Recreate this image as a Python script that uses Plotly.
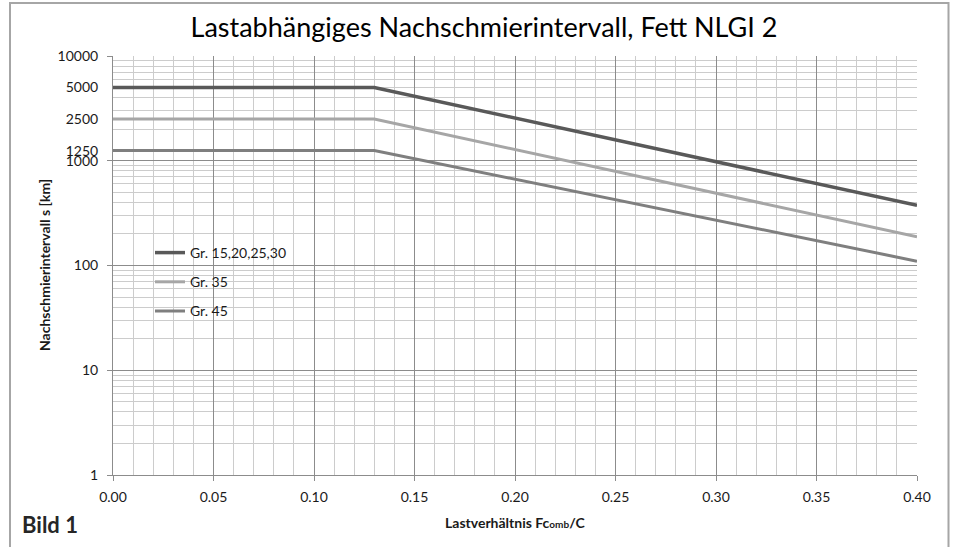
import plotly.graph_objects as go

# Data
load_ratio = [0.00, 0.13, 0.40]
series_names = ["Gr. 15,20,25,30", "Gr. 35", "Gr. 45"]
gr_15_30 = [5000, 5000, 375]
gr_35 = [2500, 2500, 188]
gr_45 = [1250, 1250, 110]
series_values = [gr_15_30, gr_35, gr_45]
series_colors = ["#595959", "#a6a6a6", "#7f7f7f"]

y_major_ticks = [1, 10, 100, 1000, 10000]
y_extra_ticks = [1250, 2500, 5000]
x_ticks = [0.00, 0.05, 0.10, 0.15, 0.20, 0.25, 0.30, 0.35, 0.40]

W, H = 954, 547
L, R, T, B = 113, 37, 56, 72
pw, ph = W - L - R, H - T - B


def px(x):
    return (x - L) / pw


def py(y):
    return (H - B - y) / ph


FONT = "Lato, 'Open Sans', sans-serif"
TXT = "#1a1a1a"

fig = go.Figure()
for i, (name, vals, col) in enumerate(zip(series_names, series_values, series_colors)):
    fig.add_trace(go.Scatter(
        x=load_ratio, y=vals, mode="lines", name=name,
        line=dict(color=col, width=3.5 if i == 0 else 3),
        legendgroup=f"g{i}", hoverinfo="x+y+name",
    ))
fig.add_trace(go.Scatter(x=[None], y=[None], yaxis="y2", showlegend=False, hoverinfo="skip"))

minor_y = [m * 10 ** d for d in range(0, 4) for m in range(2, 10)]

fig.update_layout(
    width=W, height=H,
    margin=dict(l=L, r=R, t=T, b=B),
    paper_bgcolor="white", plot_bgcolor="white",
    font=dict(family=FONT, size=14, color=TXT),
    title=dict(text="Lastabhängiges Nachschmierintervall, Fett NLGI 2",
               x=484 / W, xanchor="center", y=1 - 28 / H, yanchor="middle",
               font=dict(family=FONT, size=27, color="#000000")),
    xaxis=dict(
        range=[0, 0.40], tickvals=x_ticks, ticktext=[f"{v:.2f}" for v in x_ticks],
        showgrid=True, gridcolor="#8c8c8c", gridwidth=1,
        minor=dict(dtick=0.01, tick0=0, showgrid=True, gridcolor="#cccccc", gridwidth=1, ticks=""),
        ticks="outside", ticklen=5, tickcolor="#8c8c8c", ticklabelstandoff=4,
        showline=True, linecolor="#8c8c8c", linewidth=1, zeroline=False,
        tickfont=dict(size=14, color=TXT),
    ),
    yaxis=dict(
        type="log", range=[0, 4], tickvals=y_major_ticks,
        ticktext=[str(v) for v in y_major_ticks],
        showgrid=True, gridcolor="#8c8c8c", gridwidth=1,
        minor=dict(tickvals=minor_y, showgrid=True, gridcolor="#cccccc", gridwidth=1, ticks=""),
        ticks="outside", ticklen=5, tickcolor="#8c8c8c", ticklabelstandoff=6,
        showline=True, linecolor="#8c8c8c", linewidth=1, zeroline=False,
        tickfont=dict(size=14, color=TXT),
    ),
    yaxis2=dict(
        type="log", range=[0, 4], overlaying="y", side="left", tickvals=y_extra_ticks,
        ticktext=[str(v) for v in y_extra_ticks], showgrid=False, ticks="outside",
        ticklen=5, tickcolor="rgba(0,0,0,0)", showline=False, zeroline=False,
        ticklabelstandoff=6, tickfont=dict(size=14, color=TXT),
    ),
    legend=dict(
        x=px(150), y=py(237), xanchor="left", yanchor="top",
        bgcolor="rgba(0,0,0,0)", borderwidth=0, tracegroupgap=8,
        font=dict(size=14, color=TXT), itemwidth=30,
    ),
    showlegend=True,
)

# legend white box
fig.add_shape(type="rect", xref="paper", yref="paper",
              x0=px(147), x1=px(300), y0=py(325), y1=py(235),
              fillcolor="white", line=dict(width=0), layer="between")

# outer frame
fig.add_shape(type="path", xref="paper", yref="paper",
              path=f"M {px(10)} {py(H + 10)} L {px(10)} {py(3)} L {px(948.5)} {py(3)} L {px(948.5)} {py(H + 10)}",
              line=dict(color="#a6a6a6", width=2), layer="above")

# axis titles
fig.add_annotation(text="<b>Lastverhältnis Fc<span style='font-size:10px'>omb</span>/C</b>",
                   xref="paper", yref="paper", x=px(515), y=py(522), xanchor="center", yanchor="middle",
                   showarrow=False, font=dict(family=FONT, size=14, color=TXT))
fig.add_annotation(text="<b>Nachschmierintervall s [km]</b>", textangle=-90,
                   xref="paper", yref="paper", x=px(44), y=py(265), xanchor="center", yanchor="middle",
                   showarrow=False, font=dict(family=FONT, size=14, color=TXT))

fig.add_annotation(text="<b>Bild 1</b>", xref="paper", yref="paper",
                   x=px(20), y=py(524), xanchor="left", yanchor="middle",
                   showarrow=False, font=dict(family=FONT, size=22, color="#262626"))

fig.write_html("out.html", config={"displayModeBar": False},
               post_script="document.body.style.margin='0';document.body.style.overflow='hidden';")
